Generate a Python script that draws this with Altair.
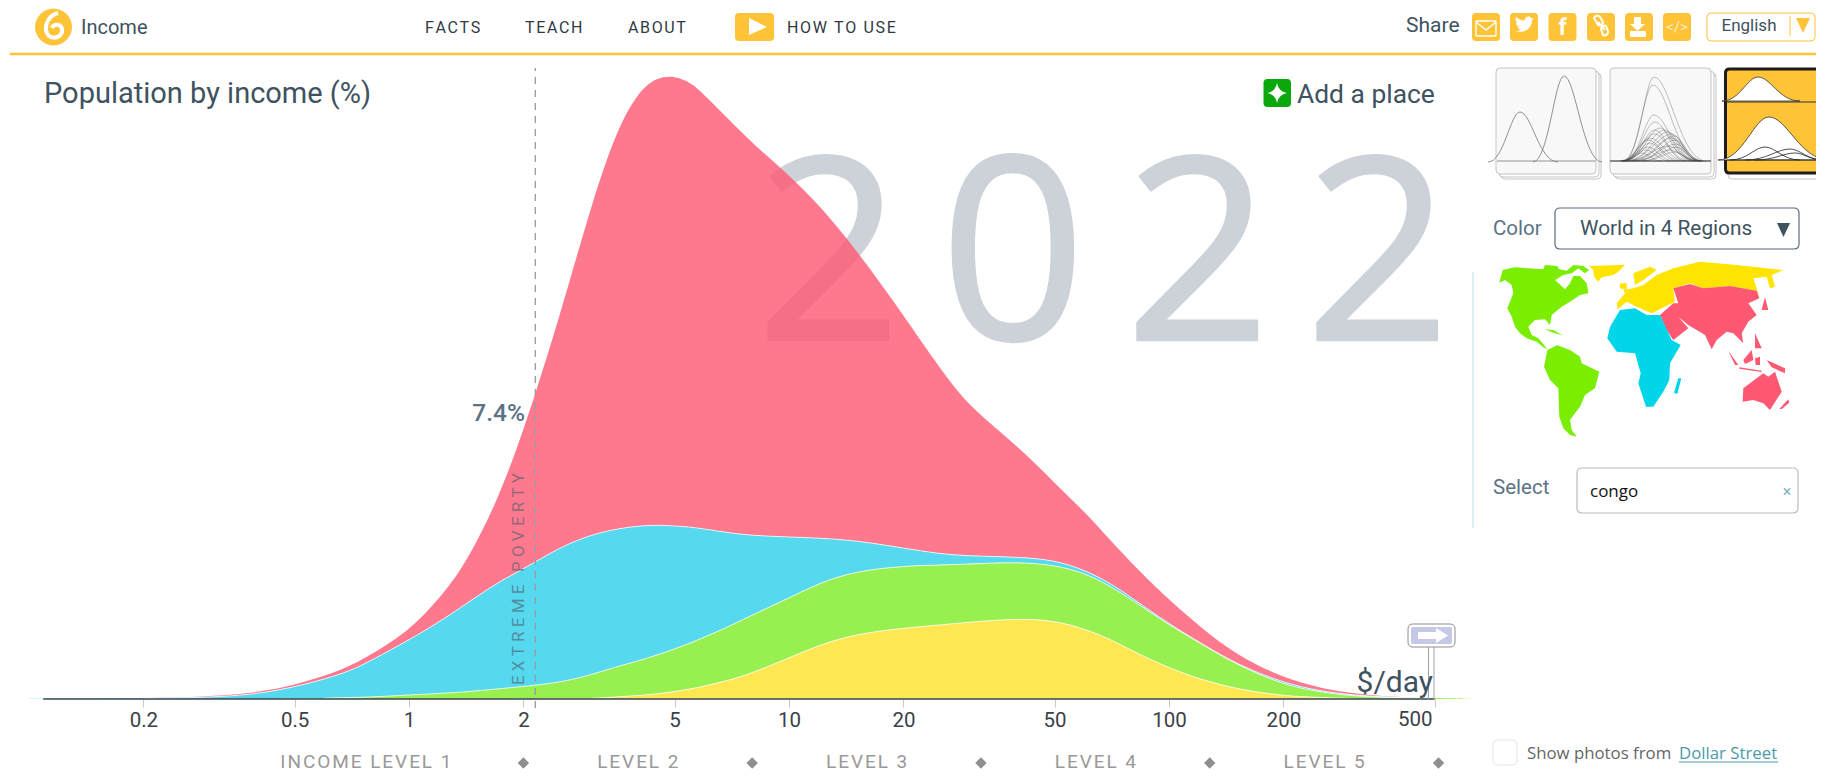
import math
import altair as alt

W, H = 1808, 765
income = [0.1,0.15,0.2,0.3,0.4,0.5,0.6,0.7,0.8,1,1.2,1.4,1.7,2,2.5,3,3.5,4,4.5,5,5.5,6,7,8,10,12,15,20,25,30,40,50,60,70,80,100,120,150,200,250,300,400,500,631]
pink_top = [.002,.003,.007,.025,.065,.14,.23,.33,.45,.68,1.00,1.33,1.96,2.67,3.84,4.91,5.67,6.07,6.22,6.23,6.17,6.04,5.78,5.56,5.24,4.94,4.50,3.84,3.30,2.91,2.53,2.16,1.87,1.59,1.35,.99,.73,.44,.21,.11,.06,.015,.012,0]
blue_top = [.002,.003,.005,.015,.05,.12,.20,.28,.39,.59,.77,.94,1.16,1.30,1.52,1.64,1.70,1.73,1.74,1.73,1.72,1.70,1.66,1.635,1.62,1.61,1.585,1.51,1.45,1.43,1.42,1.39,1.29,1.16,1.01,.75,.57,.35,.16,.08,.04,.012,.012,0]
green_top = [0,0,0,0,.001,.003,.008,.015,.02,.04,.055,.07,.10,.125,.165,.24,.32,.38,.44,.50,.56,.62,.73,.84,1.01,1.16,1.28,1.33,1.34,1.35,1.37,1.34,1.26,1.13,.99,.74,.565,.345,.14,.07,.03,.01,.012,0]
yellow_top = [0,0,0,0,0,0,0,0,0,0,0,0,0,.002,.004,.005,.02,.035,.05,.075,.10,.13,.19,.26,.41,.54,.65,.71,.74,.77,.805,.785,.70,.60,.48,.31,.20,.10,.03,.015,.005,.001,0,0]
tick_values = [0.2,0.5,1,2,5,10,20,50,100,200,500]
level_edges = [2,8,32,128,512]
level_names = ["INCOME LEVEL 1","LEVEL 2","LEVEL 3","LEVEL 4","LEVEL 5"]
level_centers = [0.77,4,16,64,256]
year_digits = ["2","0","2","2"]
INK, SLATE, GOLD = "#3e5260", "#5b7287", "#ffc337"
FONT = "Roboto"
H_SP = "\u200a"
NB = "\u00a0"

xs = alt.Scale(type="log", nice=False, base=10,
               domain=[10 ** ((8 - 409) / 380), 10 ** ((8 + W - 409) / 380)], range=[0, W])
ys = alt.Scale(nice=False, zero=False, domain=[(699 - (8 + H)) / 100, (699 - 8) / 100], range=[H, 0])
XAX = alt.Axis(values=tick_values, title=None, domain=False, grid=False, offset=-(8 + H - 699),
               tickColor="#c8c8c8", tickSize=8, tickWidth=1, labelFont=FONT, labelFontSize=20.5,
               labelColor="#3a4148", labelPadding=3, labelOverlap=False, labelFlush=False,
               labelExpr="datum.value==500?'':''+datum.value")
one = alt.Data(values=[{"a": 1}])
layers = []

def txt(s, x, y, size, color=INK, align="left", font=FONT, weight=400, angle=0, baseline="middle", opacity=1, stroke=0):
    kw = dict(text=s, align=align, baseline=baseline, font=font, fontSize=size,
              fontWeight=weight, color=color, angle=angle, opacity=opacity)
    if stroke:
        kw.update(stroke=color, strokeWidth=stroke, strokeJoin="round")
    layers.append(alt.Chart(one).mark_text(**kw).encode(x=alt.value(x - 8), y=alt.value(y - 8)))

def shape(path, fill=None, stroke=None, sw=1, opacity=1):
    kw = dict(shape=path, size=4, opacity=opacity, strokeWidth=sw)
    if fill:
        kw.update(filled=True, fill=fill, stroke=stroke or fill)
        if not stroke:
            kw["strokeWidth"] = 0
    else:
        kw.update(filled=False, stroke=stroke)
    layers.append(alt.Chart(one).mark_point(**kw).encode(x=alt.value(-8), y=alt.value(-8)))

def rr(x0, y0, x1, y1, r=4):
    return (f"M{x0+r} {y0}H{x1-r}Q{x1} {y0} {x1} {y0+r}V{y1-r}Q{x1} {y1} {x1-r} {y1}"
            f"H{x0+r}Q{x0} {y1} {x0} {y1-r}V{y0+r}Q{x0} {y0} {x0+r} {y0}Z")

def poly(points, ox=0, oy=0, k=1):
    return "M" + "L".join(f"{ox+px*k:.1f} {oy+py*k:.1f}" for px, py in points) + "Z"

def hump(x0, x1, xp, base, peak):
    return (f"M{x0} {base}C{x0+.5*(xp-x0)} {base} {xp-.3*(xp-x0)} {peak} {xp} {peak}"
            f"C{xp+.3*(x1-xp)} {peak} {x1-.5*(x1-xp)} {base} {x1} {base}")

X = lambda f: alt.X(f, scale=xs, axis=XAX)
Y = lambda f: alt.Y(f, scale=ys, axis=None)

# ---------- year behind the areas
for d, c in zip(year_digits, [829, 1013, 1198, 1378]):
    txt(d, c, 340, 255, "#ccd2d8", "center", "Open Sans", 400, baseline="alphabetic", stroke=2.5)

# ---------- stacked areas
series = [("pink", pink_top, blue_top, "#ff5872"), ("blue", blue_top, green_top, "#2ccfeb"),
          ("green", green_top, yellow_top, "#7eec24"), ("yellow", yellow_top, [0] * len(income), "#ffe127")]
for name, top, low, col in series:
    rows = [{"v": v, "t": t, "l": l} for v, t, l in zip(income, top, low)]
    layers.append(alt.Chart(alt.Data(values=rows)).mark_area(color=col, opacity=.8, interpolate="basis")
                  .encode(x=X("v:Q"), y=Y("t:Q"), y2="l:Q"))
for name, top, low, col in series[1:]:
    rows = [{"v": v, "t": t} for v, t in zip(income, top) if t > 0.004]
    layers.append(alt.Chart(alt.Data(values=rows)).mark_line(color="white", opacity=.75, strokeWidth=1, interpolate="basis")
                  .encode(x=X("v:Q"), y=Y("t:Q")))

# ---------- baseline and axis
layers.append(alt.Chart(alt.Data(values=[{"a": 0.109, "b": 500, "y": 0}])).mark_rule(color="#3a464e", strokeWidth=1.5)
              .encode(x=X("a:Q"), x2="b:Q", y=Y("y:Q")))
layers.append(alt.Chart(alt.Data(values=[{"v": 500, "y": -0.21}])).mark_text(text="500", align="right", dx=-2, font=FONT, fontSize=20.5, color="#3a4148")
              .encode(x=X("v:Q"), y=Y("y:Q")))

# ---------- poverty line
layers.append(alt.Chart(alt.Data(values=[{"v": 2.15, "a": -0.09, "b": 6.31}])).mark_rule(color="#9a9ea2", strokeWidth=1.4, strokeDash=[7, 6])
              .encode(x=X("v:Q"), y=Y("a:Q"), y2="b:Q"))
txt("7.4%", 525, 414, 24.5, SLATE, "right", weight=500)
txt(NB.join("EXTREME") + NB * 3 + NB.join("POVERTY"), 519, 579, 17, "#4f5f70", "center", angle=270, opacity=.62)

# ---------- income levels
layers.append(alt.Chart(alt.Data(values=[{"v": v} for v in level_edges])).mark_point(shape="diamond", filled=True, size=130, color="#8f8f8f", opacity=1)
              .encode(x=X("v:Q"), y=alt.value(763 - 8)))
layers.append(alt.Chart(alt.Data(values=[{"v": v, "n": H_SP.join(n)} for v, n in zip(level_centers, level_names)]))
              .mark_text(font=FONT, fontSize=19, color="#999999", fontWeight=400)
              .encode(x=X("v:Q"), y=alt.value(762 - 8), text="n:N"))

# ---------- $/day sign
shape("M1428.5 647V699M1434 647V699", stroke="#a0a0a8", sw=1)
shape(rr(1408, 624, 1455, 647, 5), fill="white", stroke="#8e8e96", sw=1)
shape(rr(1411, 627, 1452, 644, 2), fill="#c6c8e8")
shape(poly([(1418,632),(1436,632),(1436,628),(1448,635.5),(1436,643),(1436,639),(1418,639)]), fill="white")
txt("$/day", 1433, 692, 30, INK, "right", baseline="alphabetic")

# ---------- titles
txt("Population by income (%)", 44, 94, 29, INK)
shape(rr(1263.5, 79, 1291, 107, 4), fill="#0aa80a")
shape("M1277 83Q1278.5 91.5 1287 93Q1278.5 94.5 1277 103Q1275.5 94.5 1267 93Q1275.5 91.5 1277 83Z", fill="white")
txt("Add a place", 1297, 95, 26.4, INK)

# ---------- header
shape("M10 54H1824", stroke=GOLD, sw=2.5)
shape("M53.5 8.5C63.5 8.5 72 17 72 27C72 37 63.5 45.5 53.5 45.5C43.5 45.5 35 37 35 27C35 17 43.5 8.5 53.5 8.5Z", fill=GOLD)
shape("M58 13C46 16 43 30 49 36C55 40 63 36 62 29C61 24 54 23 52 28", stroke="white", sw=4)
txt("Income", 81, 28, 20, INK)
for s, x in [("FACTS", 425), ("TEACH", 525), ("ABOUT", 628), ("HOW TO USE", 787)]:
    txt(H_SP.join(s), x, 28, 16, "#2f3a42")
shape(rr(735, 13, 774, 41, 4), fill=GOLD)
shape(poly([(749,18),(749,35),(767,27)]), fill="white")

txt("Share", 1406, 26, 21, INK)
for x in [1472, 1510, 1548.5, 1587, 1625, 1663]:
    shape(rr(x, 13, x + 28, 41, 4), fill=GOLD)
shape(rr(1476, 21, 1496, 36, 1) + "M1476 22L1486 30L1496 22", stroke="white", sw=1.4)
shape("M1515 31C1522 33 1532 31 1532 20L1534 18L1531.5 18.5C1530 15.5 1525 16 1524.5 20.5C1521 20.5 1518 18.5 1516 17C1515 19 1515.5 22 1518 23L1516 22.5C1516 25 1517.5 26.5 1519.5 27L1517.5 27.2C1518 28.5 1519.5 29.5 1521 29.5C1519.5 30.7 1517.5 31.2 1515 31Z", fill="white")
txt("f", 1562.5, 28, 23, "white", "center", weight=700)
shape("M1594 18a3.5 3.5 0 0 1 6 -1l3 5a3.5 3.5 0 0 1 -5 3zM1601 29a3.5 3.5 0 0 1 5 -3l2 5a3.5 3.5 0 0 1 -5 4zM1598 22L1605 30", stroke="white", sw=2)
shape("M1634 17H1641V24H1645L1637.5 31L1630 24H1634Z", fill="white")
shape(rr(1630, 31, 1646, 37, 1), fill="white")
txt("</>", 1677, 27, 15, "white", "center", weight=300)
shape(rr(1707, 13, 1815, 41, 4), fill="white", stroke=GOLD, sw=1)
txt("English", 1749, 26, 17, INK, "center")
shape("M1790 16V36", stroke=GOLD, sw=1)
shape(poly([(1796,18),(1810,18),(1803,33)]), fill=GOLD)

# ---------- thumbnails
for dx in (5, 3):
    shape(rr(1496 + dx, 68 + dx, 1596 + dx, 174 + dx), fill="white", stroke="#c4c4c4")
    shape(rr(1610 + dx, 68 + dx, 1711 + dx, 174 + dx), fill="white", stroke="#c4c4c4")
shape(rr(1725 + 3, 70 + 3, 1830, 179), fill="white", stroke="#c4c4c4")
shape(rr(1496, 68, 1596, 174), fill="#f8f8f8", stroke="#c4c4c4")
shape("M1497 161H1596", stroke="#b4b4b4", sw=1.5)
shape(hump(1488, 1558, 1520, 162, 112), stroke="#777777", sw=.8)
shape(hump(1533, 1602, 1564, 162, 76), stroke="#777777", sw=.8)

shape(rr(1610, 68, 1711, 174), fill="#f8f8f8", stroke="#c4c4c4")
shape("M1610 161H1711", stroke="#666666", sw=1.5)
thumb_lines = [(1632,1700,1654,77),(1631,1694,1653,85),(1632,1690,1654,115),(1631,1686,1655,122),(1631,1680,1655,130),
               (1630,1684,1654,134),(1632,1688,1660,128),(1630,1690,1665,130),(1634,1692,1668,132),(1628,1680,1650,138),
               (1628,1676,1648,140),(1632,1694,1672,134),(1636,1696,1674,136),(1630,1672,1650,143),(1640,1694,1672,138),
               (1645,1697,1675,140),(1628,1668,1648,147),(1640,1696,1676,144),(1634,1690,1668,146),(1650,1696,1676,147),
               (1630,1664,1646,150),(1642,1694,1670,150),(1630,1656,1642,153),(1650,1695,1674,152)]
for x0, x1, xp, pk in thumb_lines:
    shape(hump(x0 - 8, x1 + 6, xp, 161, pk), stroke="#444444", sw=.6, opacity=.55)

shape(rr(1725.5, 69, 1832, 173), fill=GOLD, stroke="#1c1c1c", sw=3)
shape(hump(1722, 1800, 1758, 101, 77) + "Z", fill="white", stroke="#333333", sw=.8)
shape("M1727 102H1823", stroke="#333333", sw=1.2)
shape(hump(1718, 1830, 1769, 160, 117) + "Z", fill="white", stroke="#333333", sw=.8)
shape("M1727 160H1823", stroke="#333333", sw=1.2)
shape(hump(1730, 1800, 1765, 160, 147), stroke="#222222", sw=.8)
shape(hump(1745, 1824, 1790, 160, 149), stroke="#222222", sw=.8)
shape(hump(1755, 1824, 1795, 160, 153), stroke="#222222", sw=.8)

# ---------- color selector and map
txt("Color", 1493, 229, 20.5, SLATE)
shape(rr(1555, 208, 1799, 249, 5), fill="white", stroke="#5a6b78", sw=1.2)
txt("World in 4 Regions", 1580, 229, 20.8, INK)
shape(poly([(1777,223),(1790,223),(1783.5,237)]), fill=INK)
shape("M1473 272V528", stroke="#bcdfec", sw=1)

MX, MY, MK = 1470, 260, 1 / 3
green_land = [
    [(88,68),(98,30),(135,22),(220,28),(225,15),(262,18),(268,28),(290,32),(310,15),(340,18),(357,30),(345,40),(325,25),(305,40),(280,45),(255,60),(285,88),(300,70),(310,48),(330,48),(350,70),(355,100),(330,105),(300,125),(275,140),(245,165),(240,195),(225,178),(195,180),(175,200),(185,225),(205,235),(222,255),(232,268),(220,262),(200,245),(170,235),(150,220),(135,200),(125,170),(112,145),(130,100),(125,75),(105,60)],
    [(232,270),(262,256),(300,270),(330,290),(335,310),(388,335),(375,385),(345,405),(330,440),(315,460),(300,480),(305,510),(320,530),(300,525),(280,505),(268,470),(265,385),(240,360),(222,320)],
    [(225,208),(250,210),(278,226),(250,218)],
]
yellow_land = [
    [(358,18),(465,14),(445,35),(430,45),(395,52),(385,65),(372,50),(370,30)],
    [(443,148),(440,130),(465,100),(460,90),(490,85),(520,75),(560,45),(610,25),(690,5),(800,15),(940,30),(905,45),(915,80),(900,85),(890,50),(850,55),(870,115),(860,92),(780,78),(700,85),(660,70),(610,85),(615,125),(575,145),(545,160),(500,140),(470,125)],
    [(490,40),(540,20),(560,30),(520,60),(495,75)],
    [(450,70),(470,70),(470,90),(450,85)],
]
red_land = [
    [(570,165),(610,130),(625,130),(610,85),(660,72),(700,85),(780,78),(860,92),(868,115),(835,130),(860,165),(835,185),(815,220),(820,250),(790,220),(770,215),(740,240),(725,268),(705,225),(655,195),(625,170),(655,205),(610,240),(590,210)],
    [(885,112),(895,150),(875,150),(880,130)],
    [(855,220),(875,265),(855,265)],
    [(775,272),(805,315),(795,315)],
    [(820,300),(845,270),(850,300),(825,312)],
    [(808,322),(875,332),(875,336),(808,326)],
    [(855,295),(870,290),(870,315),(857,315)],
    [(890,300),(945,325),(945,340),(905,322)],
    [(818,425),(820,385),(880,340),(895,350),(915,335),(935,395),(900,450),(880,430),(850,420)],
    [(928,447),(955,418),(958,428),(935,447)],
]
blue_land = [
    [(450,150),(495,145),(530,165),(570,165),(605,240),(632,255),(600,310),(598,360),(580,395),(550,440),(528,440),(505,370),(512,340),(495,280),(440,275),(412,235),(420,200)],
    [(625,355),(634,355),(622,402),(612,398)],
]
for lands, col in [(green_land, "#7aed00"), (yellow_land, "#ffe400"), (red_land, "#ff5872"), (blue_land, "#00d5e9")]:
    shape("".join(poly(p, MX, MY, MK) for p in lands), fill=col)

# ---------- select and footer
txt("Select", 1493, 488, 20.5, SLATE)
shape(rr(1577, 468, 1798, 513, 5), fill="white", stroke="#bcbcbc", sw=1.2)
txt("congo", 1590, 492, 17, "#111111", font="Open Sans")
txt("\u00d7", 1787, 492, 16, "#7fb4c4", "center")
shape(rr(1493, 740, 1517, 765, 5), fill="white", stroke="#dde3ea", sw=1)
txt("Show photos from", 1527, 754, 16.8, "#666666", font="Open Sans")
txt("Dollar Street", 1679, 754, 16.8, "#4a9aaa", font="Open Sans")
shape("M1679 762H1778", stroke="#4a9aaa", sw=1)

chart = alt.layer(*layers).properties(width=W, height=H, padding=0, background="white",
                                      autosize=alt.AutoSizeParams(type="none")).configure_view(strokeWidth=0)
chart.save("out.html", embed_options={"renderer": "svg", "actions": False})
